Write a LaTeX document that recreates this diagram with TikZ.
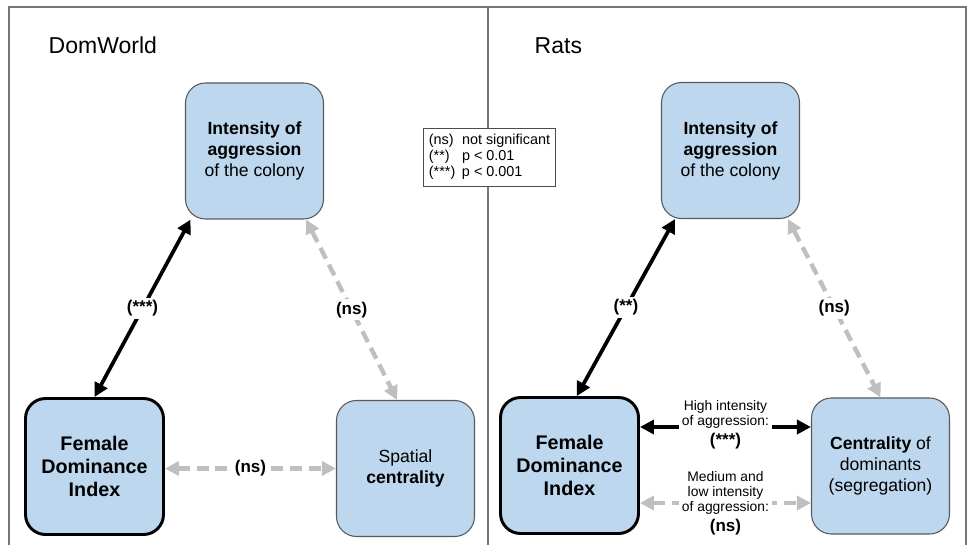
\documentclass[tikz,border=0pt]{standalone}
\usepackage{fontspec}
\setmainfont{Liberation Sans}
\usetikzlibrary{arrows.meta}
\definecolor{boxblue}{RGB}{189,215,238}
\definecolor{boxline}{RGB}{89,89,89}
\definecolor{nsgray}{RGB}{191,191,191}
\definecolor{framegray}{RGB}{118,118,118}

\begin{document}
\begin{tikzpicture}[x=0.75pt,y=-0.75pt,
  box/.style={draw=boxline,line width=0.8pt,fill=boxblue,rounded corners=15pt,
    minimum width=103.5pt,minimum height=102pt,inner sep=0pt,align=center,
    font=\fontsize{13.2}{15.75}\selectfont},
  fdibox/.style={box,draw=black,line width=2.2pt,font=\fontsize{14.8}{17.25}\selectfont\bfseries},
  sigarrow/.style={line width=2.8pt,{Triangle[length=10.5pt,width=10.5pt]}-{Triangle[length=10.5pt,width=10.5pt]}},
  nsarrow/.style={nsgray,line width=3.3pt,dash pattern=on 9pt off 5pt,
    {Triangle[length=10.5pt,width=10.5pt]}-{Triangle[length=10.5pt,width=10.5pt]}},
  siglabel/.style={fill=white,text=black,inner sep=2pt,font=\fontsize{12.75}{15}\selectfont\bfseries},
  notelabel/.style={fill=white,text=black,inner sep=2pt,align=center,font=\fontsize{10.4}{11.25}\selectfont},
  paneltitle/.style={anchor=base west,font=\fontsize{17.25}{20}\selectfont}]

\useasboundingbox (0,0) rectangle (967,545);
\draw[framegray,line width=1.1pt] (9,545) -- (9,7) -- (966,7) -- (966,545);
\draw[framegray,line width=1.1pt] (488,7) -- (488,545);

\node[draw=black!70,fill=white,line width=0.6pt,inner xsep=4pt,inner ysep=4pt,
  font=\fontsize{10.8}{12}\selectfont] (legend) at (489.5,157.5)
  {\begin{tabular}{@{}l@{\hspace{5pt}}l@{}}(ns) & not significant\\(**) & p < 0.01\\(***) & p < 0.001\end{tabular}};

% DomWorld
\node[paneltitle] (domworld) at (44,54) {DomWorld};
\node[box] (topL) at (254.5,151) {\textbf{Intensity of}\\\textbf{aggression}\\of the colony};
\node[fdibox] (fdiL) at (94.5,466.5) {Female\\Dominance\\Index};
\node[box] (spatL) at (405.5,468.5) {Spatial\\\textbf{centrality}};

\draw[sigarrow] (fdiL.north) -- node[siglabel] {(***)} (topL.-133);
\draw[nsarrow] (topL.-53) -- node[siglabel] {(ns)} (spatL.97);
\draw[nsarrow] (fdiL.east |- spatL.west) -- node[siglabel] {(ns)} (spatL.west);

% Rats
\node[paneltitle] (rats) at (530,54) {Rats};
\node[box] (topR) at (730.5,150.5) {\textbf{Intensity of}\\\textbf{aggression}\\of the colony};
\node[fdibox] (fdiR) at (569.5,465.5) {Female\\Dominance\\Index};
\node[box] (centR) at (880.5,466) {\textbf{Centrality} of\\dominants\\(segregation)};

\draw[sigarrow] (fdiR.84) -- node[siglabel] {(**)} (topR.-129);
\draw[nsarrow] (topR.-50) -- node[siglabel] {(ns)} (centR.north);

\coordinate (highLvl) at (727,427);
\coordinate (lowLvl) at (727,503);
\draw[sigarrow] (fdiR.east |- highLvl) -- node[notelabel,yshift=2pt] (highLab)
  {High intensity\\of aggression:\\[2.5pt]{\fontsize{12.75}{15}\selectfont\bfseries(***)}} (centR.west |- highLvl);
\draw[nsarrow] (fdiR.east |- lowLvl) -- node[notelabel] (lowLab)
  {Medium and\\low intensity\\of aggression:\\[2.5pt]{\fontsize{12.75}{15}\selectfont\bfseries(ns)}} (centR.west |- lowLvl);
\end{tikzpicture}
\end{document}
